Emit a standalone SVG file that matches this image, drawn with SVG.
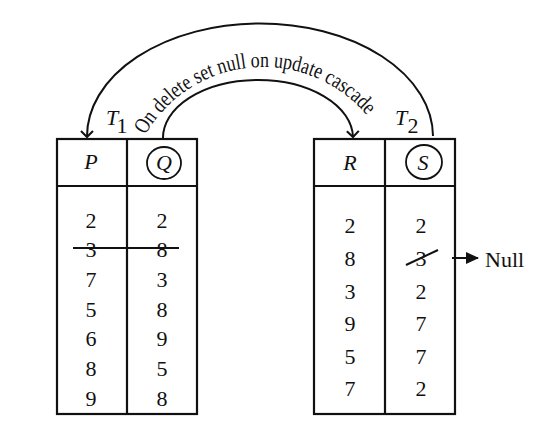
<svg xmlns="http://www.w3.org/2000/svg" width="553" height="423" viewBox="0 0 553 423">
<style>
.t{font-family:"Liberation Serif","Times New Roman",serif;font-size:22px;fill:#111;text-anchor:middle}
.it{font-style:italic}
.box{fill:none;stroke:#111;stroke-width:2.2}
.ln{fill:none;stroke:#111;stroke-width:2}
.lab{font-family:"Liberation Serif","Times New Roman",serif;font-size:22px;fill:#111}
</style>
<defs>
<marker id="open" markerWidth="14" markerHeight="14" refX="7" refY="7" orient="auto" markerUnits="userSpaceOnUse">
<path d="M1,1 L7,7 L1,13" fill="none" stroke="#111" stroke-width="2"/>
</marker>
<marker id="fill" markerWidth="14" markerHeight="12" refX="12" refY="6" orient="auto" markerUnits="userSpaceOnUse">
<path d="M0,0 L13,6 L0,12 Z" fill="#111"/>
</marker>
<path id="tp" d="M127,203 A136,136 0 0 1 399,203"/>
</defs>
<rect width="553" height="423" fill="#fff"/>
<g id="connectors">
<path class="ln" d="M433,136 A173,113 0 0 0 87,137" marker-end="url(#open)"/>
<path class="ln" d="M163,139 A95,58 0 0 1 353,137" marker-end="url(#open)"/>
<line class="ln" x1="452" y1="258" x2="478" y2="258" marker-end="url(#fill)"/>
</g>
<text class="lab" font-size="24"><textPath href="#tp" startOffset="71" textLength="261" lengthAdjust="spacingAndGlyphs">On delete set null on update cascade</textPath></text>
<g id="T1">
<text class="t it" x="112" y="125" font-size="25">T</text>
<text class="t" x="122" y="133" font-size="17">1</text>
<rect class="box" x="57" y="139" width="140" height="275"/>
<line class="box" x1="127" y1="139" x2="127" y2="414"/>
<line class="box" x1="57" y1="186" x2="197" y2="186"/>
<text class="t it" x="91" y="169">P</text>
<ellipse cx="164" cy="163" rx="17" ry="16" fill="none" stroke="#111" stroke-width="1.8"/>
<text class="t it" x="164" y="170">Q</text>
<g class="t">
<text x="91" y="228">2</text><text x="91" y="257">3</text><text x="91" y="287">7</text><text x="91" y="317">5</text><text x="91" y="346">6</text><text x="91" y="376">8</text><text x="91" y="406">9</text>
<text x="162" y="228">2</text><text x="162" y="257">8</text><text x="162" y="287">3</text><text x="162" y="317">8</text><text x="162" y="346">9</text><text x="162" y="376">5</text><text x="162" y="406">8</text>
</g>
<line class="ln" x1="73" y1="248" x2="179" y2="248"/>
</g>
<g id="T2">
<text class="t it" x="401" y="125" font-size="25">T</text>
<text class="t" x="413" y="133" font-size="17">2</text>
<rect class="box" x="314" y="139" width="141" height="275"/>
<line class="box" x1="385" y1="139" x2="385" y2="414"/>
<line class="box" x1="314" y1="186" x2="455" y2="186"/>
<text class="t it" x="350" y="170">R</text>
<ellipse cx="424" cy="162" rx="18" ry="17" fill="none" stroke="#111" stroke-width="1.8"/>
<text class="t it" x="423" y="170">S</text>
<g class="t">
<text x="350" y="233">2</text><text x="350" y="266">8</text><text x="350" y="299">3</text><text x="350" y="331">9</text><text x="350" y="364">5</text><text x="350" y="396">7</text>
<text x="421" y="233">2</text><text x="421" y="266">3</text><text x="421" y="299">2</text><text x="421" y="331">7</text><text x="421" y="364">7</text><text x="421" y="396">2</text>
</g>
<line class="ln" x1="406" y1="265" x2="438" y2="250"/>
<text class="lab" x="485" y="267">Null</text>
</g>
</svg>
